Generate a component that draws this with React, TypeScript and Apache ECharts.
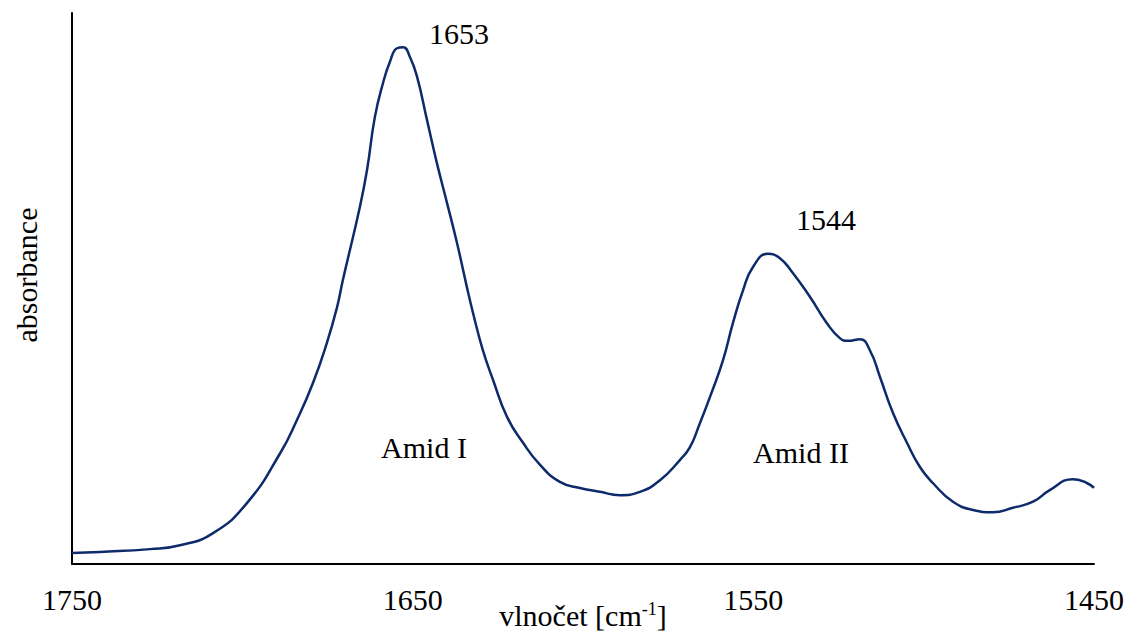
import React, { useEffect, useRef } from "react";
import * as echarts from "echarts";

const wavenumbers = [
  1750, 1741.8, 1727.1, 1718.3, 1708.6, 1698.6, 1688.9, 1684.0, 1679.3, 1675.2,
  1672.2, 1670.5, 1665.5, 1663.4, 1661.1, 1658.7, 1656.7, 1654.6, 1652.8, 1650.8,
  1648.7, 1645.8, 1642.9, 1639.9, 1637.0, 1634.1, 1632.3, 1629.4, 1626.4, 1622.3,
  1617.6, 1612.6, 1606.8, 1600.9, 1595.0, 1589.2, 1583.3, 1577.4, 1571.5, 1568.6,
  1565.9, 1562.5, 1558.9, 1556.0, 1553.0, 1550.1, 1545.7, 1542.2, 1538.4, 1533.4,
  1528.4, 1524.6, 1522.2, 1518.7, 1515.8, 1512.8, 1509.0, 1504.9, 1501.1, 1497.3,
  1491.4, 1485.5, 1479.7, 1473.8, 1467.9, 1463.0, 1456.2, 1452.1, 1450.0,
];
const absorbance = [
  2.0, 2.2, 2.7, 3.4, 5.6, 11.1, 20.1, 26.1, 32.8, 40.1,
  46.6, 51.5, 64.8, 71.5, 81.1, 87.3, 91.1, 93.6, 93.8, 92.0,
  88.4, 80.6, 72.8, 65.5, 58.3, 50.3, 45.6, 38.8, 33.4, 26.7,
  22.0, 18.0, 14.9, 13.8, 13.1, 12.5, 13.1, 15.2, 18.9, 21.2,
  25.2, 30.7, 37.0, 43.7, 49.7, 53.9, 56.3, 55.5, 52.8, 48.5,
  43.7, 41.0, 40.5, 40.8, 38.8, 33.9, 27.4, 22.0, 17.6, 14.7,
  11.3, 9.8, 9.4, 10.2, 11.3, 13.4, 15.4, 14.7, 13.8,
];
const xTicks = [1450, 1550, 1650, 1750];

const FONT = '"Liberation Serif", "Times New Roman", serif';

export default function App() {
  const ref = useRef<HTMLDivElement>(null);
  useEffect(() => {
    if (!ref.current) return;
    const chart = echarts.init(ref.current, undefined, { renderer: "svg" });
    const data = wavenumbers.map((w, i) => [w, absorbance[i]]);
    chart.setOption({
      animation: false,
      backgroundColor: "#ffffff",
      grid: { left: 72, right: 34, top: 13, bottom: 73, containLabel: false, outerBoundsMode: "none" },
      xAxis: {
        type: "value",
        inverse: true,
        min: xTicks[0],
        max: xTicks[xTicks.length - 1],
        interval: 100,
        axisLine: { show: true, lineStyle: { color: "#000", width: 2 } },
        axisTick: { show: false },
        splitLine: { show: false },
        axisLabel: {
          show: true,
          color: "#000",
          fontFamily: FONT,
          fontSize: 30,
          margin: 20,
          showMinLabel: true,
          showMaxLabel: true,
          formatter: (v: number) => String(v),
        },
        name: "{a|vlnočet [cm}{s|-1}{a|]}",
        nameLocation: "middle",
        nameGap: 36,
        nameMoveOverlap: false,
        nameTextStyle: {
          rich: {
            a: { fontFamily: FONT, fontSize: 30, color: "#000" },
            s: { fontFamily: FONT, fontSize: 18, color: "#000", verticalAlign: "top", padding: [0, 0, 12, 0] },
          },
        },
      },
      yAxis: {
        type: "value",
        min: 0,
        max: 100,
        axisLine: { show: true, lineStyle: { color: "#000", width: 2 } },
        axisTick: { show: false },
        axisLabel: { show: false },
        splitLine: { show: false },
      },
      series: [
        {
          type: "line",
          data,
          smooth: 0.5,
          showSymbol: false,
          lineStyle: { color: "#0d2b6b", width: 2.5 },
        },
      ],
      graphic: [
        {
          type: "text",
          x: 26,
          y: 275,
          rotation: Math.PI / 2,
          style: {
            text: "absorbance",
            fontFamily: FONT,
            fontSize: 30,
            fill: "#000",
            textAlign: "center",
            textVerticalAlign: "middle",
          },
        },
        {
          type: "text",
          x: 459,
          y: 33,
          style: { text: "1653", fontFamily: FONT, fontSize: 30, fill: "#000", textAlign: "center", textVerticalAlign: "middle" },
        },
        {
          type: "text",
          x: 826,
          y: 219,
          style: { text: "1544", fontFamily: FONT, fontSize: 30, fill: "#000", textAlign: "center", textVerticalAlign: "middle" },
        },
        {
          type: "text",
          x: 424,
          y: 447,
          style: { text: "Amid I", fontFamily: FONT, fontSize: 30, fill: "#000", textAlign: "center", textVerticalAlign: "middle" },
        },
        {
          type: "text",
          x: 801,
          y: 452,
          style: { text: "Amid II", fontFamily: FONT, fontSize: 30, fill: "#000", textAlign: "center", textVerticalAlign: "middle" },
        },
      ],
    });
    return () => chart.dispose();
  }, []);
  return (
    <div
      ref={ref}
      style={{ position: "fixed", left: 0, top: 0, width: 1128, height: 637, background: "#fff" }}
    />
  );
}
